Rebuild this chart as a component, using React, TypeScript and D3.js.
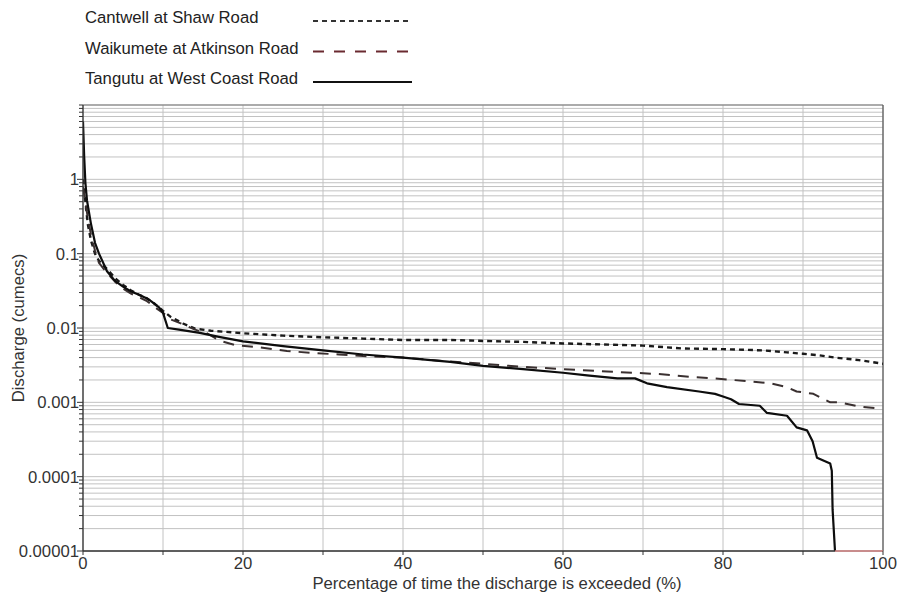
import React from "react";
import * as d3 from "d3";

const seriesNames = ["Cantwell at Shaw Road", "Waikumete at Atkinson Road", "Tangutu at West Coast Road"];

const cantwellPct = [0, 0.3, 0.6, 1, 1.5, 2, 3, 4, 5, 6, 7, 8, 9, 10, 11, 12.5, 14, 16, 20, 25, 30, 35, 40, 46, 50, 55, 60, 65, 70, 75, 80, 85, 88, 90, 92, 94, 97, 100];
const cantwellQ = [1.0, 0.5, 0.25, 0.15, 0.1, 0.08, 0.062, 0.047, 0.038, 0.032, 0.028, 0.025, 0.021, 0.017, 0.014, 0.0115, 0.0098, 0.0092, 0.0085, 0.0079, 0.0075, 0.0072, 0.0069, 0.0069, 0.0067, 0.0065, 0.0062, 0.006, 0.0058, 0.0053, 0.0052, 0.005, 0.0047, 0.0045, 0.0043, 0.004, 0.0037, 0.0033];

const waikumetePct = [0, 0.3, 0.6, 1, 1.5, 2, 3, 4, 5, 6, 7, 8, 9, 10, 11, 12.5, 14, 15.5, 17, 19, 22, 25.5, 29, 32, 35, 40, 45, 50, 55, 60, 65.5, 72, 76, 79, 86, 88, 89.2, 91.3, 93.4, 94.6, 97, 99.2];
const waikumeteQ = [0.8, 0.5, 0.3, 0.18, 0.11, 0.075, 0.055, 0.042, 0.034, 0.029, 0.026, 0.023, 0.019, 0.016, 0.013, 0.0112, 0.0095, 0.0085, 0.0068, 0.0059, 0.0055, 0.0049, 0.0046, 0.0044, 0.0042, 0.004, 0.0036, 0.0033, 0.003, 0.0028, 0.0026, 0.0024, 0.0022, 0.0021, 0.0018, 0.0016, 0.0014, 0.0013, 0.001, 0.001, 0.00088, 0.00083];

const tangutuPct = [0, 0.15, 0.3, 0.5, 1, 1.5, 2, 3, 4, 5, 6, 7, 8, 8.5, 9.5, 10, 10.6, 12, 14.6, 17, 20, 25, 30, 35, 40, 45.9, 50, 55, 60, 63, 66.8, 69, 70.5, 73, 77, 79, 80, 81, 82, 84.6, 85.5, 88, 89.2, 90.5, 91.2, 91.75, 93.4, 93.6, 93.7, 94];
const tangutuQ = [6, 2, 0.9, 0.52, 0.25, 0.14, 0.1, 0.058, 0.043, 0.036, 0.031, 0.028, 0.025, 0.023, 0.019, 0.016, 0.01, 0.0095, 0.0086, 0.0076, 0.0066, 0.0057, 0.005, 0.0044, 0.004, 0.0035, 0.0031, 0.0028, 0.0025, 0.0023, 0.0021, 0.0021, 0.0018, 0.0016, 0.0014, 0.0013, 0.0012, 0.0011, 0.00095, 0.0009, 0.00072, 0.00066, 0.00046, 0.00042, 0.0003, 0.00018, 0.00015, 0.00012, 0.000036, 0.00001];

const xTicks = [0, 20, 40, 60, 80, 100];
const xGrid = [0, 10, 20, 30, 40, 50, 60, 70, 80, 90, 100];
const yTicks = [1, 0.1, 0.01, 0.001, 0.0001, 0.00001];
const yTickLabels = ["1", "0.1", "0.01", "0.001", "0.0001", "0.00001"];
const xLabel = "Percentage of time the discharge is exceeded (%)";
const yLabel = "Discharge (cumecs)";

const W = 900, H = 595;
const L = 83, R = 883, T = 105, B = 551;
const font = "'Liberation Sans', Arial, sans-serif";
const FS = 16.7;

export default function App() {
  const x = d3.scaleLinear().domain([0, 100]).range([L, R]);
  const y = d3.scaleLog().domain([0.00001, 10]).range([B, T]);

  const minor: number[] = [];
  for (let e = -5; e < 1; e++) {
    for (let m = 1; m <= 9; m++) minor.push(m * Math.pow(10, e));
  }
  minor.push(10);

  const line = d3.line<[number, number]>().x((d) => x(d[0])).y((d) => y(d[1]));
  const mk = (p: number[], q: number[]) => p.map((v, i) => [v, q[i]] as [number, number]);

  const series = [
    { name: seriesNames[0], d: line(mk(cantwellPct, cantwellQ)), stroke: "#1a1a1a", dash: "5,4", w: 2.4 },
    { name: seriesNames[1], d: line(mk(waikumetePct, waikumeteQ)), stroke: "#3a3030", dash: "11,8", w: 2 },
    { name: seriesNames[2], d: line(mk(tangutuPct, tangutuQ)), stroke: "#0d0d0d", dash: "", w: 2.2 },
  ];
  const legendStroke = ["#333", "#6a2a30", "#111"];

  return (
    <svg width={W} height={H} style={{ position: "absolute", left: 0, top: 0, background: "#fff" }} fontFamily={font}>
      <rect x={0} y={0} width={W} height={H} fill="#fff" />
      {series.map((s, i) => (
        <g key={s.name}>
          <text x={85} y={23 + i * 30.5} fontSize={FS} fill="#222">{s.name}</text>
          <line x1={313} x2={412} y1={21 + i * 30.5} y2={21 + i * 30.5} stroke={legendStroke[i]} strokeWidth={i === 2 ? 2 : 1.8} strokeDasharray={i === 0 ? "5,4" : i === 1 ? "11,10" : undefined} />
        </g>
      ))}
      {minor.map((v, i) => (
        <line key={"h" + i} x1={L} x2={R} y1={y(v)} y2={y(v)} stroke="#c2c2c2" strokeWidth={1} />
      ))}
      {xGrid.map((v) => (
        <line key={"v" + v} x1={x(v)} x2={x(v)} y1={T} y2={B} stroke="#c2c2c2" strokeWidth={1} />
      ))}
      <line x1={L} x2={R} y1={T} y2={T} stroke="#777" strokeWidth={1.2} />
      <line x1={R} x2={R} y1={T} y2={B} stroke="#555" strokeWidth={1.2} />
      <defs>
        <clipPath id="plotclip">
          <rect x={L} y={T} width={R - L} height={B - T + 1} />
        </clipPath>
      </defs>
      <g clipPath="url(#plotclip)">
        {series.map((s) => (
          <path key={s.name} d={s.d || ""} fill="none" stroke={s.stroke} strokeWidth={s.w} strokeDasharray={s.dash || undefined} strokeLinejoin="round" />
        ))}
      </g>
      <line x1={x(94)} x2={R} y1={B} y2={B} stroke="#c07070" strokeWidth={1.5} />
      <line x1={L} x2={L} y1={T} y2={B} stroke="#333" strokeWidth={1.3} />
      <line x1={L} x2={x(94)} y1={B} y2={B} stroke="#333" strokeWidth={1.3} />
      {minor.map((v, i) => (
        <line key={"yt" + i} x1={L - (yTicks.includes(v) ? 6 : 4)} x2={L} y1={y(v)} y2={y(v)} stroke="#333" strokeWidth={1} />
      ))}
      {yTicks.map((v, i) => (
        <text key={"yl" + i} x={L - 4} y={y(v)} dy="0.35em" textAnchor="end" fontSize={FS} fill="#333">{yTickLabels[i]}</text>
      ))}
      {xGrid.map((v) => (
        <line key={"xt" + v} x1={x(v)} x2={x(v)} y1={B} y2={B + 4} stroke="#333" strokeWidth={1} />
      ))}
      {xTicks.map((v) => (
        <text key={"xl" + v} x={x(v)} y={B + 18} textAnchor="middle" fontSize={FS} fill="#333">{v}</text>
      ))}
      <text x={497} y={589} textAnchor="middle" fontSize={FS} fill="#333">{xLabel}</text>
      <text transform={`translate(24,${(T + B) / 2}) rotate(-90)`} textAnchor="middle" fontSize={FS} fill="#333">{yLabel}</text>
    </svg>
  );
}
